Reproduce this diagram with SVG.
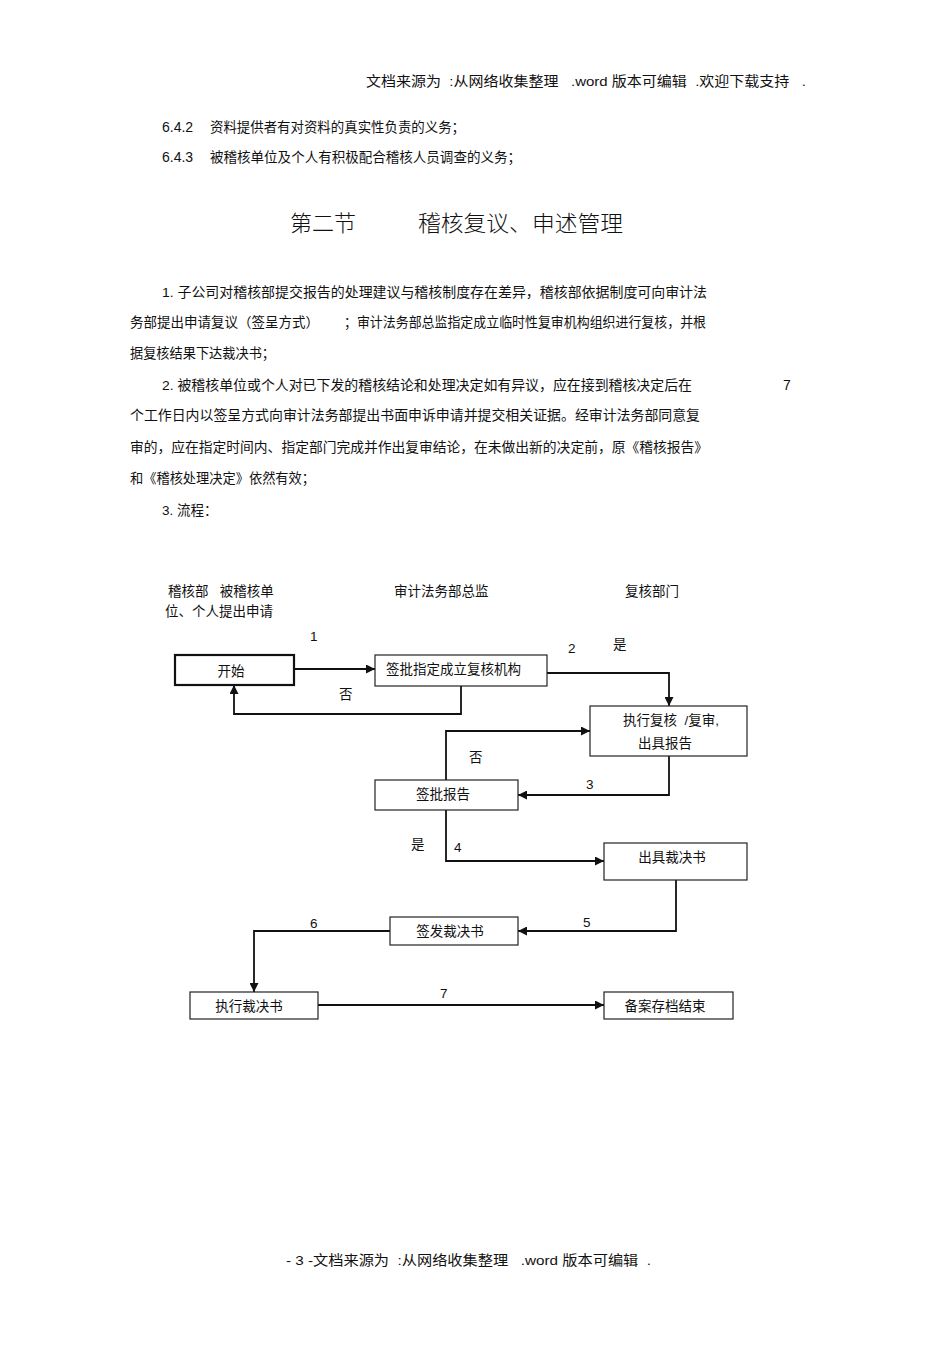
<svg xmlns="http://www.w3.org/2000/svg" width="950" height="1346" viewBox="0 0 950 1346">
<style>
text{font-family:"Liberation Sans","Noto Sans CJK SC",sans-serif;font-size:13.5px;fill:#111}
.h{font-size:22px;font-family:"Noto Sans CJK SC",sans-serif;font-weight:300}
.box{fill:#fff;stroke:#222;stroke-width:1.2}
.thick{fill:#fff;stroke:#111;stroke-width:2.2}
.ln{fill:none;stroke:#111;stroke-width:1.8}
.c{text-anchor:middle}
</style>
<defs>
<marker id="ah" viewBox="0 0 10 10" refX="10" refY="5" markerWidth="9" markerHeight="9" markerUnits="userSpaceOnUse" orient="auto">
<path d="M0,0 L10,5 L0,10 z" fill="#111"/>
</marker>
</defs>
<rect width="950" height="1346" fill="#fff"/>

<g id="header">
<text x="366" y="86" textLength="440" lengthAdjust="spacingAndGlyphs" xml:space="preserve">文档来源为  :从网络收集整理   .word 版本可编辑  .欢迎下载支持   .</text>
</g>

<g id="body">
<text x="162" y="132" style="font-size:14px">6.4.2</text>
<text x="210" y="132" textLength="255" lengthAdjust="spacingAndGlyphs">资料提供者有对资料的真实性负责的义务；</text>
<text x="162" y="162" style="font-size:14px">6.4.3</text>
<text x="210" y="162" textLength="311" lengthAdjust="spacingAndGlyphs">被稽核单位及个人有积极配合稽核人员调查的义务；</text>
<text class="h" x="290" y="231" textLength="66" lengthAdjust="spacingAndGlyphs">第二节</text>
<text class="h" x="418" y="231" textLength="205" lengthAdjust="spacingAndGlyphs">稽核复议、申述管理</text>

<text x="162" y="297" textLength="545" lengthAdjust="spacingAndGlyphs">1. 子公司对稽核部提交报告的处理建议与稽核制度存在差异，稽核部依据制度可向审计法</text>
<text x="130" y="327" textLength="189" lengthAdjust="spacingAndGlyphs">务部提出申请复议（签呈方式）</text>
<text x="344" y="327" textLength="362" lengthAdjust="spacingAndGlyphs">；审计法务部总监指定成立临时性复审机构组织进行复核，并根</text>
<text x="130" y="358" textLength="145" lengthAdjust="spacingAndGlyphs">据复核结果下达裁决书；</text>

<text x="162" y="390" textLength="530" lengthAdjust="spacingAndGlyphs">2. 被稽核单位或个人对已下发的稽核结论和处理决定如有异议，应在接到稽核决定后在</text>
<text x="783" y="390" style="font-size:14px">7</text>
<text x="130" y="420" textLength="570" lengthAdjust="spacingAndGlyphs">个工作日内以签呈方式向审计法务部提出书面申诉申请并提交相关证据。经审计法务部同意复</text>
<text x="130" y="452" textLength="578" lengthAdjust="spacingAndGlyphs">审的，应在指定时间内、指定部门完成并作出复审结论，在未做出新的决定前，原《稽核报告》</text>
<text x="130" y="483" textLength="185" lengthAdjust="spacingAndGlyphs">和《稽核处理决定》依然有效；</text>
<text x="162" y="515">3.  流程：</text>
</g>

<g id="lanes">
<text x="168" y="596" xml:space="preserve">稽核部   被稽核单</text>
<text x="165" y="616">位、个人提出申请</text>
<text x="394" y="596">审计法务部总监</text>
<text x="625" y="596">复核部门</text>
</g>

<g id="connectors">
<path class="ln" d="M294,669 H375" marker-end="url(#ah)"/>
<path class="ln" d="M461,686 V714 H234 V685" marker-end="url(#ah)"/>
<path class="ln" d="M547,673 H669 V706" marker-end="url(#ah)"/>
<path class="ln" d="M446,780 V731 H590" marker-end="url(#ah)"/>
<path class="ln" d="M669,756 V795 H518" marker-end="url(#ah)"/>
<path class="ln" d="M446,810 V861 H604" marker-end="url(#ah)"/>
<path class="ln" d="M676,880 V931 H518" marker-end="url(#ah)"/>
<path class="ln" d="M390,931 H254 V992" marker-end="url(#ah)"/>
<path class="ln" d="M318,1005 H604" marker-end="url(#ah)"/>
<text x="310" y="641">1</text>
<text x="568" y="653">2</text>
<text x="613" y="649">是</text>
<text x="339" y="699">否</text>
<text x="469" y="762">否</text>
<text x="586" y="789">3</text>
<text x="411" y="849">是</text>
<text x="454" y="852">4</text>
<text x="583" y="927">5</text>
<text x="310" y="928">6</text>
<text x="440" y="998">7</text>
</g>

<g id="n-start">
<rect class="thick" x="175" y="655" width="119" height="30"/>
<text class="c" x="231" y="676">开始</text>
</g>
<g id="n-approve">
<rect class="box" x="375" y="655" width="172" height="31"/>
<text x="386" y="674">签批指定成立复核机构</text>
</g>
<g id="n-review">
<rect class="box" x="590" y="706" width="157" height="50"/>
<text x="623" y="725" xml:space="preserve">执行复核  /复审,</text>
<text x="638" y="748">出具报告</text>
</g>
<g id="n-signreport">
<rect class="box" x="375" y="780" width="143" height="30"/>
<text class="c" x="443" y="799">签批报告</text>
</g>
<g id="n-issue">
<rect class="box" x="604" y="843" width="143" height="37"/>
<text class="c" x="672" y="862">出具裁决书</text>
</g>
<g id="n-signdecision">
<rect class="box" x="390" y="917" width="128" height="28"/>
<text class="c" x="450" y="936">签发裁决书</text>
</g>
<g id="n-execute">
<rect class="box" x="190" y="992" width="128" height="27"/>
<text class="c" x="249" y="1011">执行裁决书</text>
</g>
<g id="n-end">
<rect class="box" x="604" y="992" width="129" height="27"/>
<text class="c" x="665" y="1011">备案存档结束</text>
</g>

<g id="footer">
<text x="286" y="1265" textLength="365" lengthAdjust="spacingAndGlyphs" xml:space="preserve">- 3 -文档来源为  :从网络收集整理   .word 版本可编辑  .</text>
</g>
</svg>
